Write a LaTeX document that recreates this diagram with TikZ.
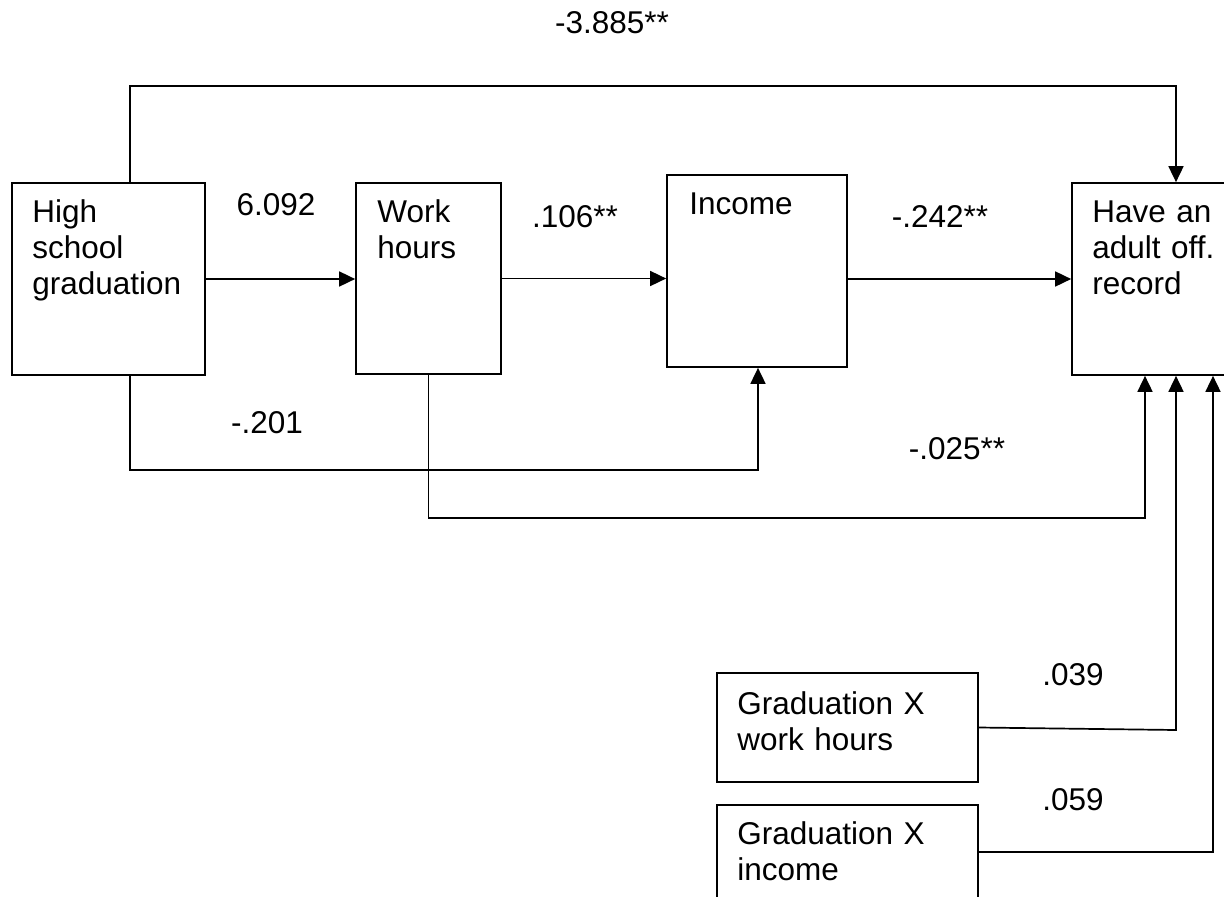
\documentclass[tikz,border=0pt]{standalone}
\usepackage{fontspec}
\setmainfont{Liberation Sans}
\usetikzlibrary{arrows.meta}
\begin{document}
\begin{tikzpicture}[x=1pt,y=1pt,
  every node/.style={font=\fontsize{31.5}{36}\selectfont},
  varbox/.style={draw,line width=1.7pt,rectangle,inner sep=0pt},
  boxtext/.style={anchor=base west,text width=250pt,align=left,inner sep=0pt},
  coef/.style={anchor=base,inner sep=0pt},
  path/.style={line width=1.7pt,-{Triangle[length=16pt,width=15pt]}}]
  \clip (0,0) rectangle (1224,-897);
  \fill[white] (0,0) rectangle (1224,-897);

  % variable boxes
  \node[varbox,minimum width=193pt,minimum height=192pt] (hs) at (108.5,-279) {};
  \node[varbox,minimum width=145pt,minimum height=191pt] (wh) at (428.5,-278.5) {};
  \node[varbox,minimum width=180pt,minimum height=192pt] (inc) at (757,-271) {};
  \node[varbox,minimum width=164pt,minimum height=192pt] (adult) at (1154,-279) {};
  \node[varbox,minimum width=261pt,minimum height=109pt] (gw) at (847.5,-727.5) {};
  \node[varbox,minimum width=261pt,minimum height=110pt] (gi) at (847.5,-860) {};

  % box captions
  \node[boxtext] (hsT) at ([xshift=21pt,yshift=-40pt]hs.north west) {High\\school\\graduation};
  \node[boxtext] (whT) at ([xshift=22pt,yshift=-40pt]wh.north west) {Work\\hours};
  \node[boxtext] (incT) at ([xshift=23pt,yshift=-40pt]inc.north west) {Income};
  \node[boxtext] (adultT) at ([xshift=21pt,yshift=-40pt]adult.north west) {Have an\\adult off.\\record};
  \node[boxtext] (gwT) at ([xshift=21pt,yshift=-42pt]gw.north west) {Graduation X\\work hours};
  \node[boxtext] (giT) at ([xshift=21pt,yshift=-40pt]gi.north west) {Graduation X\\income};

  % routing points
  \coordinate (hsTop) at ([xshift=21.5pt]hs.north);
  \coordinate (hsBot) at ([xshift=21.5pt]hs.south);
  \coordinate (topR) at (1176,-86);
  \coordinate (lowA) at (758,-470);
  \coordinate (lowB) at (1145,-518);
  \coordinate (jw) at (1176,-730);
  \coordinate (ji) at (1213,-852);

  % paths
  \draw[path] (hs.east) -- (wh.west |- hs.east);
  \draw[path] (wh.east) -- (inc.west |- wh.east);
  \draw[path] (inc.east |- hs.east) -- (adult.west);
  \draw[path] (hsTop) |- (topR) -- (topR |- adult.north);
  \draw[path] (hsBot) |- (lowA) -- (lowA |- inc.south);
  \draw[path] (wh.south) |- (lowB) -- (lowB |- adult.south);
  \draw[path] (gw.east) -- (jw) -- (jw |- adult.south);
  \draw[path] (gi.east |- ji) -- (ji) -- (ji |- adult.south);

  % coefficients
  \node[coef] (c1) at (612,-33) {-3.885**};
  \node[coef] (c2) at (276,-215) {6.092};
  \node[coef] (c3) at (575,-227) {.106**};
  \node[coef] (c4) at (940,-227) {-.242**};
  \node[coef] (c5) at (267,-433) {-.201};
  \node[coef] (c6) at (957,-459) {-.025**};
  \node[coef] (c7) at (1073,-685) {.039};
  \node[coef] (c8) at (1073,-810) {.059};
\end{tikzpicture}
\end{document}
